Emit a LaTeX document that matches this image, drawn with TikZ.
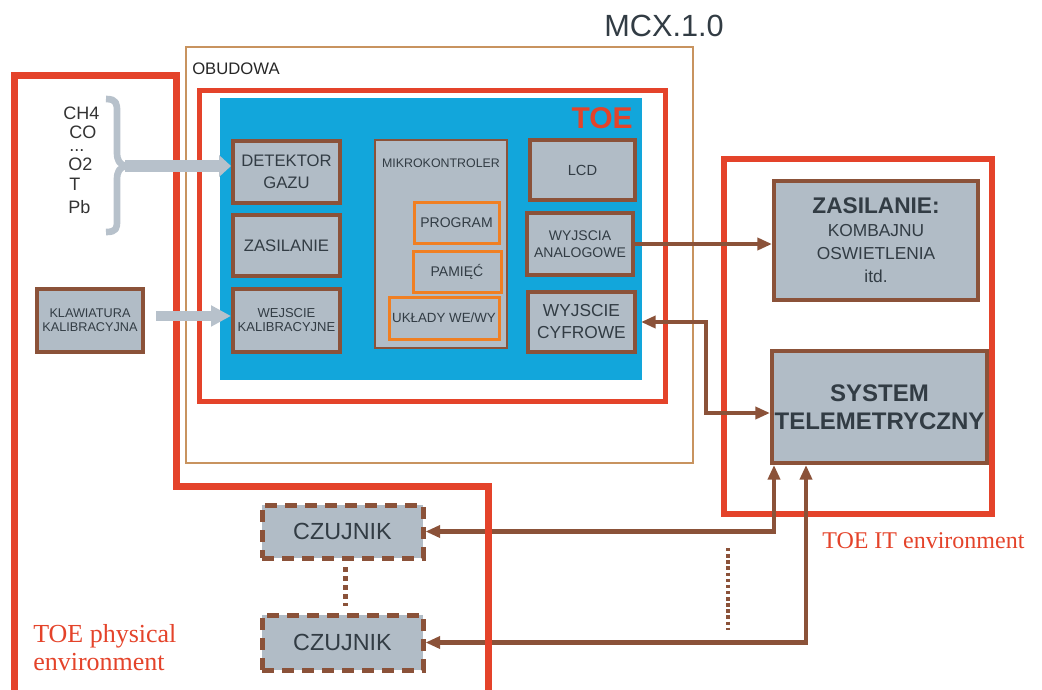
\documentclass[tikz,border=0pt]{standalone}
\usepackage{fontspec}
\setmainfont{Liberation Sans}
\newfontfamily\serifrm{Liberation Serif}
\usetikzlibrary{arrows.meta}
\definecolor{toered}{RGB}{228,67,42}
\definecolor{tanc}{RGB}{200,147,95}
\definecolor{cyanbg}{RGB}{18,166,219}
\definecolor{boxgrey}{RGB}{177,188,198}
\definecolor{brn}{RGB}{139,82,57}
\definecolor{orng}{RGB}{240,127,34}
\definecolor{greyarr}{RGB}{183,193,203}
\definecolor{txt}{RGB}{50,60,68}
\newcommand\fsz[2]{\fontsize{#1}{#2}\selectfont}
\begin{document}
\begin{tikzpicture}[x=0.75pt,y=-0.75pt,
  >={Triangle[length=11pt,width=9pt]},
  box/.style={draw=brn, line width=3pt, fill=boxgrey, inner sep=0pt, text=txt, align=center},
  thinbox/.style={draw=brn, line width=1.5pt, fill=boxgrey, inner sep=0pt},
  obox/.style={draw=orng, line width=2.25pt, fill=boxgrey, inner sep=0pt, text=txt, align=center, font=\fsz{10.5}{12}},
  czbox/.style={draw=brn, line width=3.75pt, dash pattern=on 9pt off 6pt, fill=boxgrey, inner sep=0pt, text=txt, font=\fsz{17.5}{20}},
  brline/.style={draw=brn, line width=3pt},
  gas/.style={anchor=west, inner sep=0pt, text=black!80, font=\fsz{13.5}{15}},
]
\useasboundingbox (0,0) rectangle (1042,689);

% frames
\draw[tanc, line width=1.9pt] (186,47) rectangle (693,463);
\draw[toered, line width=3.75pt] (199,90) rectangle (665,401);
\fill[cyanbg] (220,98) rectangle (642,380);
\draw[toered, line width=4.5pt] (724,159) rectangle (992,514);

% boxes
\node[box, minimum width=80.25pt, minimum height=46.5pt, font=\fsz{12.5}{16.5}] (det) at (286.5,172) {DETEKTOR\\GAZU};
\node[box, minimum width=80.25pt, minimum height=45.75pt, font=\fsz{12.5}{15}] (zas) at (286.5,245.5) {ZASILANIE};
\node[box, minimum width=80.25pt, minimum height=47.25pt, font=\fsz{9.75}{10.5}] (wej) at (286.5,320.5) {WEJSCIE\\KALIBRACYJNE};
\node[box, minimum width=79.5pt, minimum height=47.25pt, font=\fsz{9.5}{10.5}] (kla) at (90,320.5) {KLAWIATURA\\KALIBRACYJNA};

\node[thinbox, minimum width=99pt, minimum height=156pt] (mk) at (441,244) {};
\node[text=txt, inner sep=0pt, font=\fsz{9.3}{11}] (mkt) at (441,163) {MIKROKONTROLER};
\node[obox, minimum width=63.75pt, minimum height=30.75pt] (prog) at (456.5,222.5) {PROGRAM};
\node[obox, minimum width=66pt, minimum height=30.75pt] (pam) at (457,271.5) {PAMIĘĆ};
\node[obox, minimum width=82.5pt, minimum height=31.5pt, font=\fsz{10}{12}] (ukl) at (444,318) {UKŁADY WE/WY};

\node[box, minimum width=78.75pt, minimum height=45pt, font=\fsz{11}{13}] (lcd) at (582.5,170) {LCD};
\node[box, minimum width=79.5pt, minimum height=46.5pt, font=\fsz{10.5}{12.75}] (wyan) at (580,244) {WYJSCIA\\ANALOGOWE};
\node[box, minimum width=80.25pt, minimum height=45pt, font=\fsz{13}{16.5}] (wycy) at (581.5,322) {WYJSCIE\\CYFROWE};

\node[box, minimum width=153pt, minimum height=89.25pt, font=\fsz{13}{17.25}] (zasil) at (876,240.5) {{\bfseries\fsz{17}{20}ZASILANIE:}\\KOMBAJNU\\OSWIETLENIA\\itd.};
\node[box, minimum width=161.25pt, minimum height=84pt, font=\bfseries\fsz{18}{21}] (sys) at (879.5,407) {SYSTEM\\TELEMETRYCZNY};

\node[czbox, minimum width=120.75pt, minimum height=39.75pt] (cz1) at (342.5,531.5) {CZUJNIK};
\node[czbox, minimum width=120.75pt, minimum height=41.25pt] (cz2) at (342.5,642.5) {CZUJNIK};

% brown connectors
\draw[brline, ->] (wyan.east) -- (zasil.west |- wyan.east);
\coordinate (vx) at (706,322);
\draw[brline, line width=3.4pt, <->] ([xshift=3pt]wycy.east) -- (vx) |- ([yshift=-4.5pt]sys.west);
\draw[brline, line width=3.4pt, <->] (cz1.east) -| ([xshift=3pt]sys.south west);
\draw[brline, line width=3.4pt, <->] (cz2.east) -| ([xshift=27pt]sys.south west);
\draw[brn, line width=3.75pt, dash pattern=on 3.75pt off 3pt] ([xshift=2.5pt,yshift=-5pt]cz1.south) -- ([xshift=2.5pt,yshift=5pt]cz2.north);
\coordinate (d1) at (728,548);
\coordinate (d2) at (728,630);
\draw[brn, line width=2.6pt, dash pattern=on 2.6pt off 2pt] (d1) -- (d2);

% physical environment frame
\draw[toered, line width=5.25pt] (14,692) -- (14,75) -- (176,75) -- (176,486) -- (488,486) -- (488,692);

% gases and brace
\node[gas] (g1) at (63,113) {CH4};
\node[gas] (g2) at (69,132) {CO};
\node[gas, anchor=base west] (g3) at (69,151) {...};
\node[gas] (g4) at (68,164) {O2};
\node[gas] (g5) at (69,184) {T};
\node[gas] (g6) at (68,207) {Pb};
\draw[greyarr, line width=5pt, line join=round]
  (106,99) .. controls (117,99) and (117,104) .. (117,112) -- (117,152)
  .. controls (117,160) and (119,165) .. (127,166)
  .. controls (119,167) and (117,172) .. (117,180) -- (117,220)
  .. controls (117,228) and (117,232) .. (106,232);
\coordinate (btip) at (125,166);
\draw[greyarr, line width=9pt, -{Triangle[length=9pt,width=16pt]}] (btip) -- (det.west |- btip);
\draw[greyarr, line width=7.5pt, -{Triangle[length=15pt,width=15pt]}] ([xshift=8.25pt,yshift=3.4pt]kla.east) -- ([yshift=3.4pt]wej.west);

% labels
\node[anchor=east, inner sep=0pt, text=toered, font=\bfseries\fsz{22.5}{24}] (toe) at (633,118) {TOE};
\node[anchor=west, inner sep=0pt, text=black!85, font=\fsz{12.5}{14}] (obu) at (192,69) {OBUDOWA};
\node[inner sep=0pt, text=txt, font=\fsz{23}{26}] (mcx) at (664,26) {MCX.1.0};
\node[anchor=base west, inner sep=0pt, align=left, text=toered, font=\serifrm\fsz{19.5}{21}] (phys) at (33,670) {TOE physical\\environment};
\node[anchor=base west, inner sep=0pt, text=toered, font=\serifrm\fsz{18}{21}] (itenv) at (822,548) {TOE IT environment};
\end{tikzpicture}
\end{document}
